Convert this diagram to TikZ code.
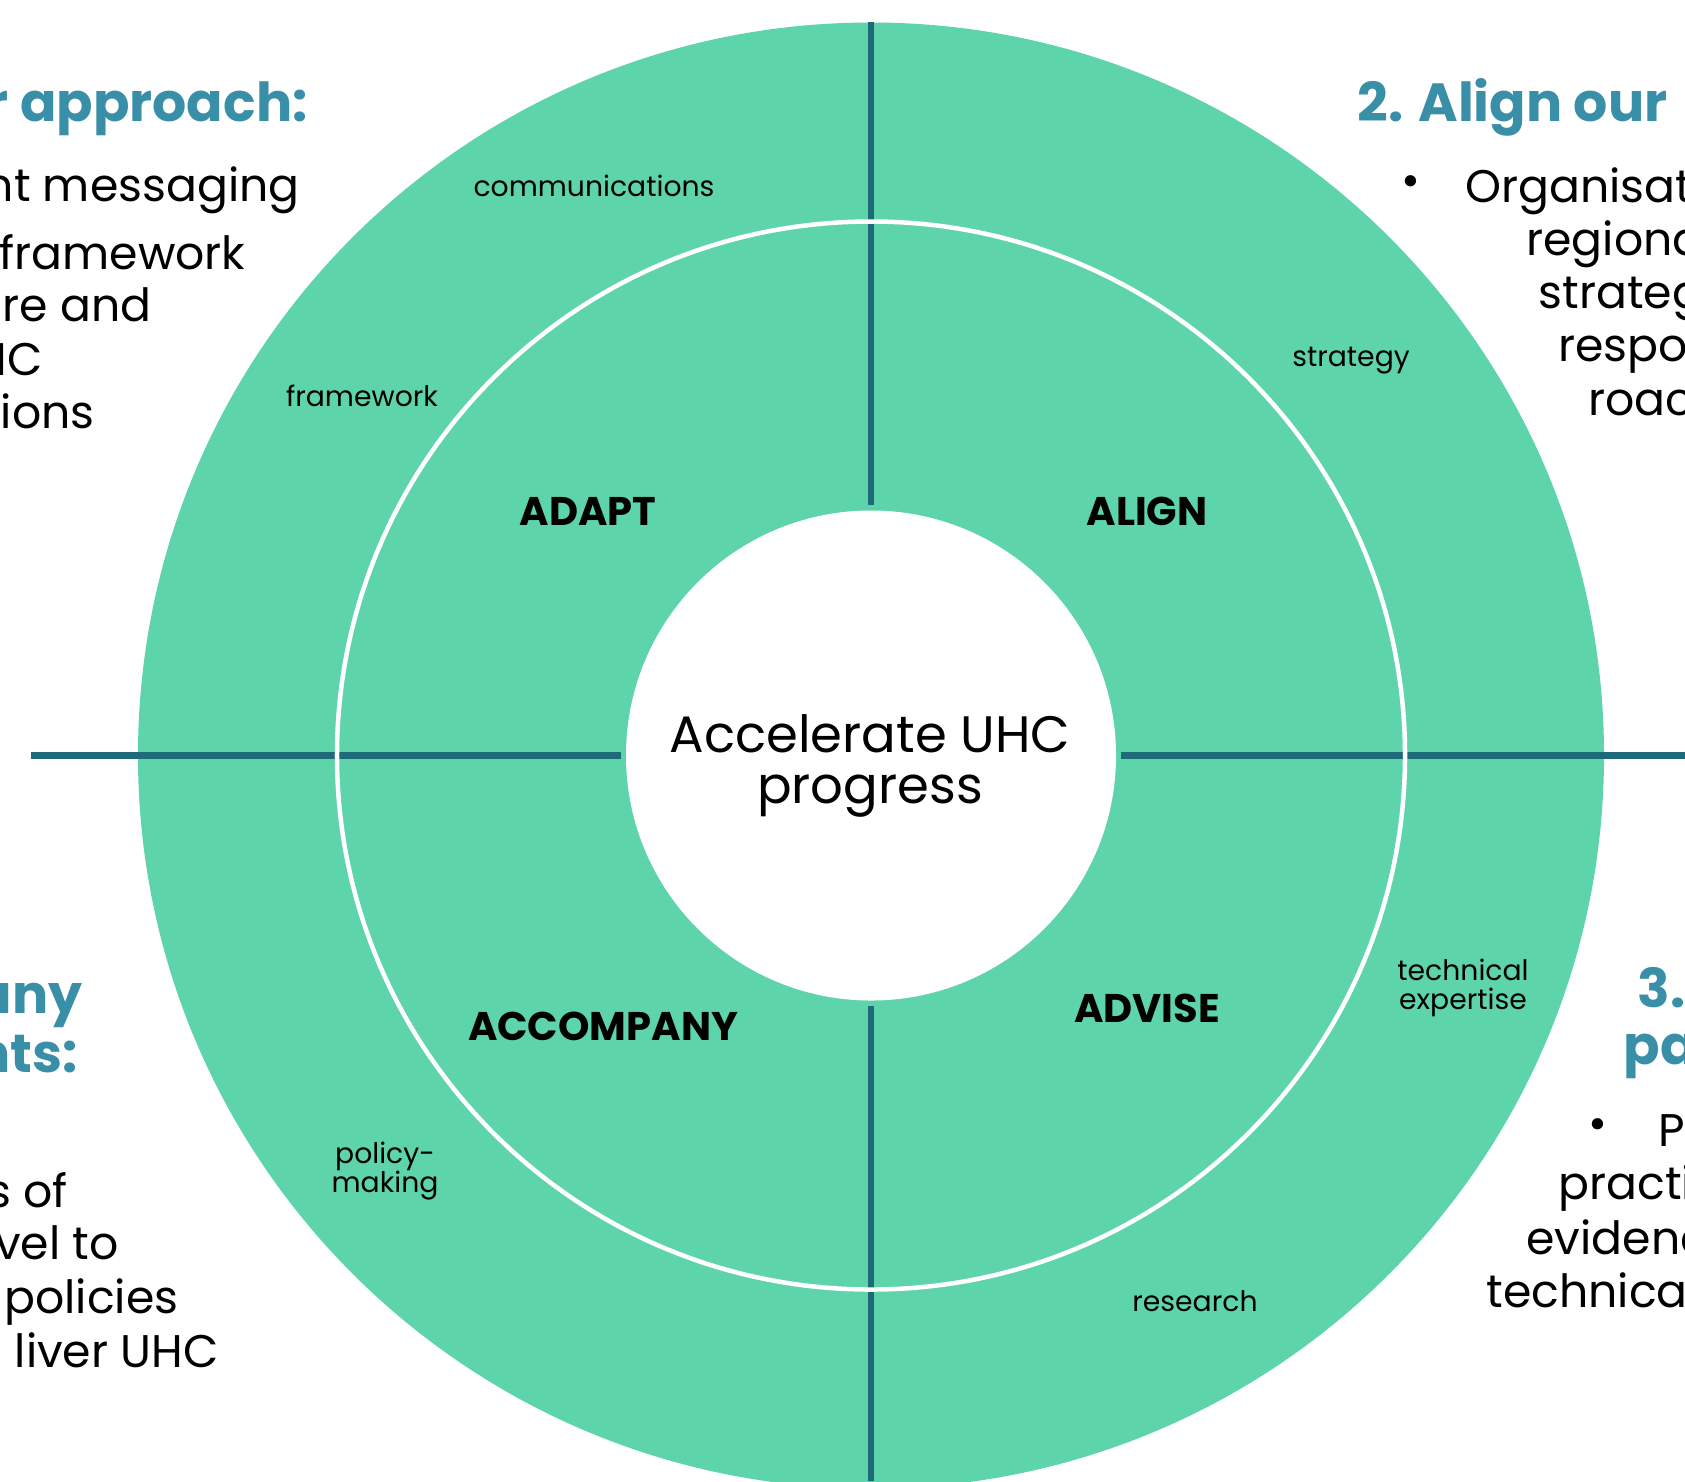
\documentclass[tikz,border=0pt]{standalone}
\usepackage{fontspec}
\setmainfont{Poppins}
\usepackage{xcolor}
\usepackage{tikz}
\usetikzlibrary{positioning}
\definecolor{ringgreen}{HTML}{5DD4AA}
\definecolor{lineteal}{HTML}{1D6A78}
\definecolor{headblue}{HTML}{3A8FA8}

\begin{document}
\begin{tikzpicture}[x=0.4pt,y=-0.4pt,
	quadrant/.style={font=\fontsize{16}{18}\selectfont\bfseries,inner sep=0pt},
	ringlabel/.style={font=\fontsize{11.3}{11.6}\selectfont,align=center,inner sep=0pt},
	heading/.style={font=\fontsize{21.5}{23}\selectfont\bfseries,text=headblue,inner sep=0pt},
	bodytext/.style={font=\fontsize{18.3}{21.5}\selectfont,inner sep=0pt},
	divider/.style={lineteal,line width=2.6pt}]
	\useasboundingbox (0,0) rectangle (1685,1481);
	% rings
	\fill[ringgreen] (871,755.5) circle[radius=293.2pt];
	\coordinate (c) at (871,755.5);
	\draw[divider] (871,22) coordinate(top end) -- (871,505) coordinate(top in);
	\draw[divider] (871,1006) coordinate(bot in) -- (871,1481) coordinate(bot end);
	\draw[divider] (31,755.5) coordinate(left end) -- (621,755.5) coordinate(left in);
	\draw[divider] (1121,755.5) coordinate(right in) -- (1685,755.5) coordinate(right end);
	\draw[white,line width=1.8pt] (c) circle[radius=213.6pt];
	\fill[white] (c) circle[radius=98pt];
	\node[font=\fontsize{20.5}{20.6}\selectfont,align=center] (centre) at (870,766) {Accelerate UHC\\progress};
	% quadrants
	\node[quadrant] (adapt) at (588,511) {ADAPT};
	\node[quadrant] (align) at (1147,511) {ALIGN};
	\node[quadrant] (accompany) at (603,1026) {ACCOMPANY};
	\node[quadrant] (advise) at (1147,1008) {ADVISE};
	% outer ring words
	\node[ringlabel] (comms) at (594,186) {communications};
	\node[ringlabel] (frame) at (362,396) {framework};
	\node[ringlabel] (strat) at (1351,361) {strategy};
	\node[ringlabel] (tech) at (1463,988) {technical\\expertise};
	\node[ringlabel] (research) at (1195,1301) {research};
	\node[ringlabel] (policy) at (385,1171) {policy-\\making};
	% text top left
	\node[heading,anchor=base east] (head1) at (308,121) {r approach:};
	\node[bodytext,anchor=base east] (l1) at (300,201) {nt messaging};
	\node[bodytext,anchor=base east] (l2) at (246,269) {framework};
	\node[bodytext,anchor=base east] (l3) at (152,321) {re and};
	\node[bodytext,anchor=base east] (l4) at (43,375) {HC};
	\node[bodytext,anchor=base east] (l5) at (95,428) {ions};
	% text top right
	\node[heading,anchor=base west] (head2) at (1357,121) {2. Align our};
	\node[bodytext] (b1) at (1411,186) {•};
	\node[bodytext,anchor=base west] (r1) at (1465,202) {Organisat};
	\node[bodytext,anchor=base west] (r2) at (1526,255) {regiona};
	\node[bodytext,anchor=base west] (r3) at (1538,308) {strateg};
	\node[bodytext,anchor=base west] (r4) at (1558,361) {respo};
	\node[bodytext,anchor=base west] (r5) at (1588,415) {roac};
	% text bottom left
	\node[heading,anchor=base east] (head4a) at (83,1013) {any};
	\node[heading,anchor=base east] (head4b) at (78,1072) {nts:};
	\node[bodytext,anchor=base east] (d1) at (68,1207) {s of};
	\node[bodytext,anchor=base east] (d2) at (119,1259) {vel to};
	\node[bodytext,anchor=base east] (d3) at (179,1313) {policies};
	\node[bodytext,anchor=base east] (d4) at (219,1367) {liver UHC};
	% text bottom right
	\node[heading,anchor=base west] (head3a) at (1637,1007) {3.};
	\node[heading,anchor=base west] (head3b) at (1623,1064) {pa};
	\node[bodytext] (b2) at (1598,1129) {•};
	\node[bodytext,anchor=base west] (e1) at (1658,1146) {P};
	\node[bodytext,anchor=base west] (e2) at (1558,1199) {practi};
	\node[bodytext,anchor=base west] (e3) at (1526,1254) {evidenc};
	\node[bodytext,anchor=base west] (e4) at (1486,1307) {technica};
\end{tikzpicture}
\end{document}
